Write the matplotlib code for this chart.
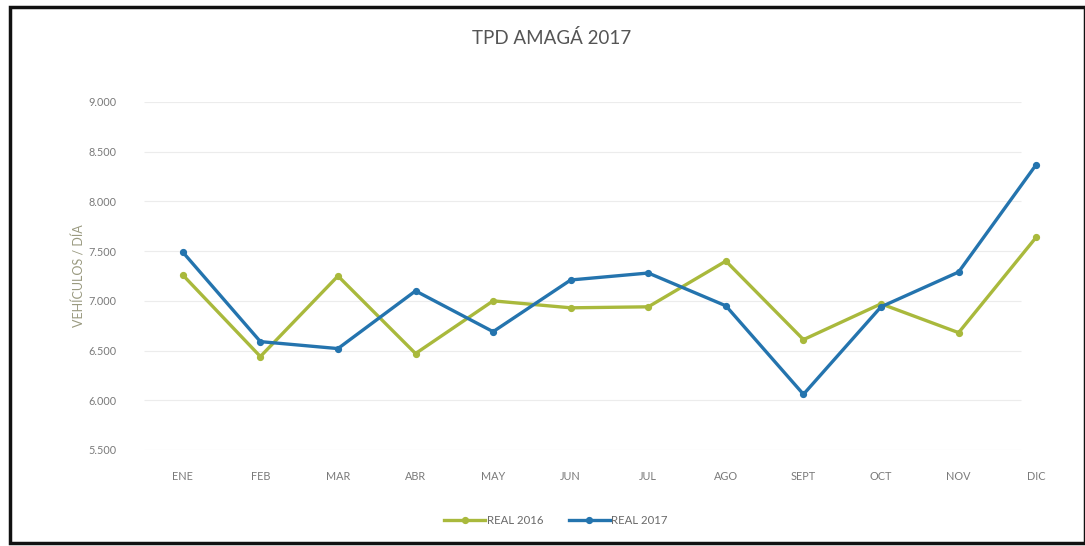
import matplotlib
matplotlib.use("Agg")
import matplotlib.pyplot as plt
from matplotlib.patches import Rectangle
from matplotlib.ticker import FuncFormatter

months = ["ENE", "FEB", "MAR", "ABR", "MAY", "JUN", "JUL", "AGO", "SEPT", "OCT", "NOV", "DIC"]
real_2016 = [7260, 6440, 7250, 6470, 7000, 6930, 6940, 7400, 6610, 6970, 6680, 7640]
real_2017 = [7490, 6590, 6520, 7100, 6690, 7210, 7280, 6950, 6060, 6940, 7290, 8370]
yticks = [5500, 6000, 6500, 7000, 7500, 8000, 8500, 9000]

plt.rcParams['font.family'] = ['Lato', 'DejaVu Sans']

fig = plt.figure(figsize=(10.85, 5.46), dpi=100)
fig.patch.set_facecolor('white')
# outer border
fig.patches.append(Rectangle((10/1085, 3/546), 1075/1085, 536/546, transform=fig.transFigure,
                             fill=False, edgecolor='#111111', linewidth=2.5))

ax = fig.add_axes([144/1085, 96/546, 931/1085, 348/546])
x = list(range(len(months)))

green = '#A9B93C'
blue = '#2474AE'
ax.plot(x, real_2016, color=green, linewidth=2.4, marker='o', markersize=4.2, label='REAL 2016', zorder=3)
ax.plot(x, real_2017, color=blue, linewidth=2.4, marker='o', markersize=4.2, label='REAL 2017', zorder=4)

ax.set_xlim(-0.5, 11.5)
ax.set_ylim(5500, 9000)
ax.hlines(yticks, -0.5, 10.8, colors='#ececec', linewidth=0.8, zorder=1)
ax.set_yticks(yticks)
ax.yaxis.set_major_formatter(FuncFormatter(lambda v, p: f"{int(v):,}".replace(",", ".")))
ax.set_xticks(x)
ax.set_xticklabels(months)
for s in ax.spines.values():
    s.set_visible(False)
ax.tick_params(axis='both', length=0, labelsize=7.8, colors='#7a7a7a')
ax.tick_params(axis='y', pad=20)
ax.tick_params(axis='x', pad=15)

ax.set_ylabel('VEHÍCULOS / DÍA', fontsize=9, color='#9a9a80', labelpad=2)

fig.text(552/1085, 1 - 38/546, 'TPD AMAGÁ 2017', ha='center', va='center', fontsize=13.5, color='#555555')

leg = fig.legend(loc='center', bbox_to_anchor=(556/1085, 1 - 520/546), ncol=2, frameon=False,
                 fontsize=8.2, handlelength=3.6, columnspacing=2.2, handletextpad=0.15)
for t in leg.get_texts():
    t.set_color('#6a6a6a')

fig.savefig('out.png', dpi=100, facecolor='white')
